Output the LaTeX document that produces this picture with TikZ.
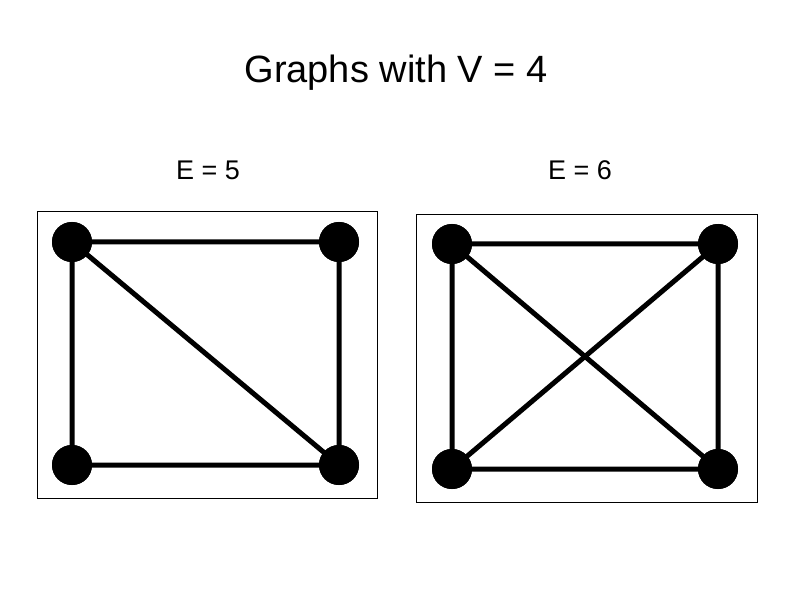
\documentclass[tikz,border=0pt]{standalone}
\usepackage{fontspec}
\setmainfont{Liberation Sans}
\begin{document}
\begin{tikzpicture}[x=1pt,y=-1pt,
  vtx/.style={circle,fill=black,minimum size=40pt,inner sep=0pt},
  edge/.style={line width=5pt},
  frame/.style={draw,line width=0.6pt}]
\useasboundingbox (0,0) rectangle (792,612);
\node (title) at (396,73) {\fontsize{38}{44}\selectfont Graphs with V = 4};
\node (l1) at (208,170) {\fontsize{27}{32}\selectfont E = 5};
\node (l2) at (580,170) {\fontsize{27}{32}\selectfont E = 6};
\node[frame,minimum width=340pt,minimum height=287pt] (b1) at (207,354.5) {};
\node[frame,minimum width=341pt,minimum height=288pt] (b2) at (586.5,358) {};
\node[vtx] (a1) at (72,242) {};
\node[vtx] (a2) at (339,242) {};
\node[vtx] (a3) at (72,465) {};
\node[vtx] (a4) at (339,465) {};
\draw[edge] (a1.center)--(a2.center)--(a4.center)--(a3.center)--(a1.center)--(a4.center);
\node[vtx] (c1) at (452,244) {};
\node[vtx] (c2) at (718,244) {};
\node[vtx] (c3) at (452,469) {};
\node[vtx] (c4) at (718,469) {};
\draw[edge] (c1.center)--(c2.center)--(c4.center)--(c3.center)--(c1.center)--(c4.center);
\draw[edge] (c2.center)--(c3.center);
\foreach \n in {a1,a2,a3,a4,c1,c2,c3,c4}{\fill (\n) circle (20pt);}
\end{tikzpicture}
\end{document}
